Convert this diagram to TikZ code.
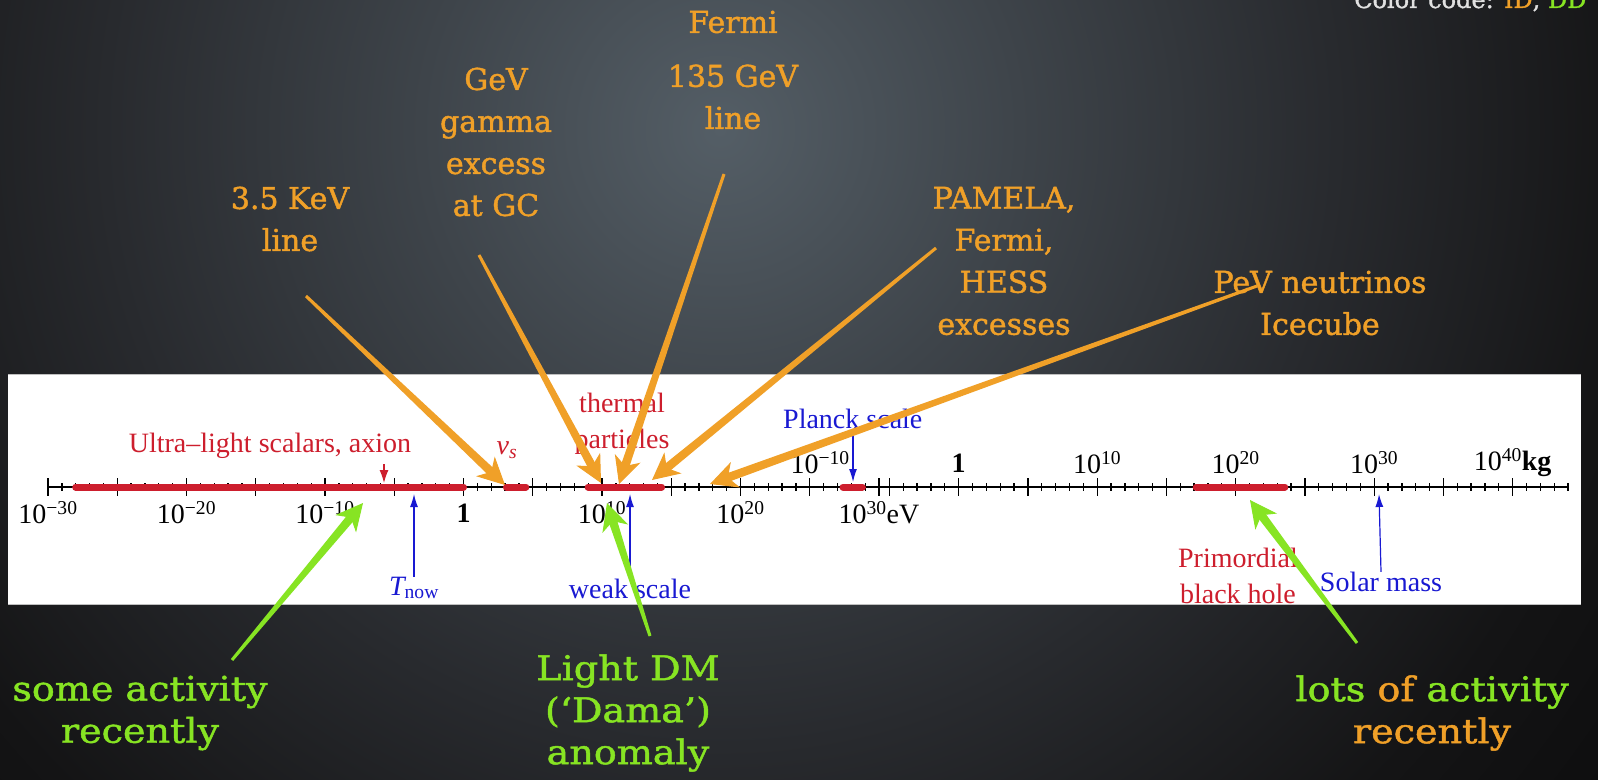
\documentclass[tikz,border=0pt]{standalone}
\usepackage{fontspec}
\setmainfont{DejaVu Serif}
\newfontfamily\oslab{DejaVu Serif}[FakeBold=1.4]
\newfontfamily\gslab{DejaVu Serif}[FakeBold=1.4,FakeStretch=1.12]
\newfontfamily\tms{Liberation Serif}
\usetikzlibrary{arrows.meta,calc}
\definecolor{ora}{RGB}{240,160,40}
\definecolor{lime}{RGB}{135,228,35}
\definecolor{bred}{RGB}{205,30,45}
\definecolor{bblue}{RGB}{25,25,210}
\definecolor{bga}{RGB}{84,94,102}
\definecolor{bgb}{RGB}{62,68,74}
\definecolor{bgm}{RGB}{40,42,46}
\definecolor{bgd}{RGB}{20,20,21}
\definecolor{bgo}{RGB}{14,14,15}
\pgfdeclareradialshading{bgshade}{\pgfpoint{0bp}{0bp}}{color(0bp)=(bga); color(6.8bp)=(bgb); color(14bp)=(bgm); color(21bp)=(bgd); color(25bp)=(bgo); color(50bp)=(bgo)}
\newcommand\tarrow[3]{%
  \coordinate (tmpH) at ($(#3)!17pt!(#2)$);
  \fill[#1] ($(#2)!1.5pt!90:(#3)$) -- ($(tmpH)!4.3pt!90:(#3)$) -- ($(tmpH)!4.3pt!-90:(#3)$) -- ($(#2)!1.5pt!-90:(#3)$) -- cycle;
  \draw[#1, line width=1pt, -{Stealth[length=27pt,width=27pt,inset=8pt]}] (tmpH) -- (#3);
}
\begin{document}
\begin{tikzpicture}[x=1pt,y=-1pt,
  declare function={xe(\l)=48+(\l+30)*13.85; xk(\l)=48+(\l+65.75)*13.85;},
  big/.style={font=\oslab\fontsize{30}{42}\selectfont, align=center, inner sep=0pt},
  gbig/.style={font=\gslab\fontsize{34}{42}\selectfont, align=center, inner sep=0pt},
  olab/.style={big, text=ora},
  glab/.style={gbig, text=lime},
  slab/.style={font=\tms\fontsize{28}{36}\selectfont, align=center, inner sep=0pt},
  rlab/.style={slab, text=bred},
  blab/.style={slab, text=bblue},
  klab/.style={slab, text=black},
  tick/.style={line width=1.3pt, black},
  bar/.style={line width=7pt, bred, line cap=round},
  barr/.style={line width=1.2pt, bblue, -{Latex[length=13pt,width=8pt]}},
  rarr/.style={line width=1.2pt, bred, -{Latex[length=13pt,width=9pt]}},
]
\useasboundingbox (0,0) rectangle (1598,779);
\clip (0,0) rectangle (1598,779);
\fill[bgo] (0,0) rectangle (1598,779);
\shade[shading=bgshade] (720,130) circle[radius=1100];

% white band
\fill[white] (8,374) rectangle (1581,604);
\draw[gray!50, line width=0.8pt] (8,374) -- (1581,374) (8,604) -- (1581,604);

% axis
\coordinate (axL) at ({xe(-30)},487);
\coordinate (axR) at ({xk(44)},487);
\draw[tick] (axL) -- (axR);
\foreach \l in {-30,...,30}{
  \pgfmathsetmacro\h{(mod(\l,5)==0) ? 9 : 4}
  \draw[tick] ({xe(\l)},{487-\h}) -- ({xe(\l)},{487+\h});
}
\foreach \l in {-5,...,44}{
  \pgfmathsetmacro\h{(mod(\l,5)==0) ? 9 : 4}
  \draw[tick] ({xk(\l)},{487-\h}) -- ({xk(\l)},{487+\h});
}

% red bars
\draw[bar] ({xe(-28)},487) -- ({xe(0)},487);
\draw[bar] ({xe(3.1)},487) -- ({xe(4.5)},487);
\draw[bar] ({xe(9)},487) -- ({xe(14.3)},487);
\draw[bar] ({xe(27.4)},487) -- ({xe(28.8)},487);
\draw[bar] ({xe(52.9)},487) -- ({xe(59.3)},487);

% eV labels
\node[klab] (e1) at ({xe(-30)},513) {10\textsuperscript{−30}};
\node[klab] (e2) at ({xe(-20)},513) {10\textsuperscript{−20}};
\node[klab] (e3) at ({xe(-10)},513) {10\textsuperscript{−10}};
\node[klab] (e4) at ({xe(0)},513) {\textbf{1}};
\node[klab] (e5) at ({xe(10)},513) {10\textsuperscript{10}};
\node[klab] (e6) at ({xe(20)},513) {10\textsuperscript{20}};
\node[klab] (e7) at ({xe(30)},513) {10\textsuperscript{30}eV};
% kg labels
\node[klab] (k1) at ({xk(-10)},463) {10\textsuperscript{−10}};
\node[klab] (k2) at ({xk(0)},463) {\textbf{1}};
\node[klab] (k3) at ({xk(10)},463) {10\textsuperscript{10}};
\node[klab] (k4) at ({xk(20)},463) {10\textsuperscript{20}};
\node[klab] (k5) at ({xk(30)},463) {10\textsuperscript{30}};
\node[klab] (k6) at ({xk(40)},463) {10\textsuperscript{40}\textbf{kg}};

% band labels
\node[rlab] (ultra) at (270,446) {Ultra–light scalars, axion};
\node[rlab] (nus) at (507,450) {\itshape ν\textsubscript{s}};
\node[rlab] (therm) at (622,424) {thermal\\particles};
\node[blab, anchor=west] (planck) at (783,419) {Planck scale};
\node[blab] (tnow) at (414,588) {\itshape T\textsubscript{\upshape now}};
\node[blab] (weak) at (630,589) {weak scale};
\node[rlab] (pbh) at (1238,576) {Primordial\\black hole};
\node[blab] (solar) at (1381,582) {Solar mass};

% marker arrows
\coordinate (axtip) at (384,483);
\coordinate (axtail) at (384,464);
\draw[rarr] (axtail) -- (axtip);
\coordinate (tnowtip) at (414,494);
\draw[barr] (tnow.north) -- (tnowtip);
\coordinate (weaktip) at (630,494);
\draw[barr] (weak.north) -- (weaktip);
\coordinate (solartip) at (1379,494);
\draw[barr] (solar.north) -- (solartip);
\coordinate (plancktip) at (853,482);
\draw[barr] (planck.south -| plancktip) -- (plancktip);

% orange labels
\node[olab] (l35) at (290,219) {3.5 KeV\\line};
\node[olab] (lgev) at (496,142) {GeV\\gamma\\excess\\at GC};
\node[olab] (lfermi) at (733,70) {Fermi\\[12pt]135 GeV\\line};
\node[olab] (lpam) at (1004,261) {PAMELA,\\Fermi,\\HESS\\excesses};
\node[olab] (lpev) at (1320,303) {PeV neutrinos\\Icecube};
% green labels
\node[glab] (lsome) at (140,713) {some activity\\recently};
\node[glab] (ldm) at (628,713) {Light DM\\(‘Dama’)\\anomaly};
\node[gbig] (llots) at (1432,713) {\textcolor{lime}{lots} \textcolor{ora}{of} \textcolor{lime}{activity}\\\textcolor{ora}{recently}};
\node[anchor=base west, inner sep=0pt, font=\oslab\fontsize{24}{30}\selectfont, text={rgb,255:red,225;green,225;blue,225}] (ccode) at (1354,8) {Color code: \textcolor{ora}{ID}, \textcolor{lime}{DD}};

% orange arrows
\coordinate (sA) at (306,296); \coordinate (eA) at (505,485);
\coordinate (sB) at (479,255); \coordinate (eB) at (601,483);
\coordinate (sC) at (724,174); \coordinate (eC) at (619,484);
\coordinate (sD) at (936,248); \coordinate (eD) at (652,480);
\coordinate (sE) at (1257,286); \coordinate (eE) at (710,484);
\tarrow{ora}{sA}{eA}
\tarrow{ora}{sB}{eB}
\tarrow{ora}{sC}{eC}
\tarrow{ora}{sD}{eD}
\tarrow{ora}{sE}{eE}
% green arrows
\coordinate (sG1) at (232,660); \coordinate (eG1) at (363,503);
\coordinate (sG2) at (650,636); \coordinate (eG2) at (607,503);
\coordinate (sG3) at (1357,643); \coordinate (eG3) at (1250,500);
\tarrow{lime}{sG1}{eG1}
\tarrow{lime}{sG2}{eG2}
\tarrow{lime}{sG3}{eG3}
\end{tikzpicture}
\end{document}
